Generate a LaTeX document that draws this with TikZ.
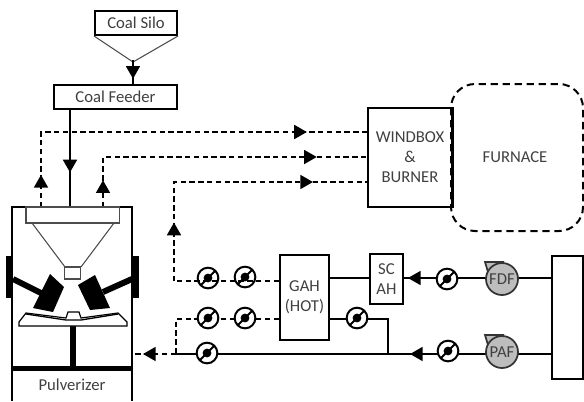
\documentclass[tikz,border=0pt]{standalone}
\usepackage{fontspec}
\setmainfont{Carlito}
\usetikzlibrary{arrows.meta,decorations.markings}
\definecolor{txt}{HTML}{404040}
\definecolor{fang}{HTML}{BDBDBD}
\tikzset{
  px/.style={x=0.75pt,y=-0.75pt},
  boxn/.style={draw=black,line width=1.5pt,fill=white,inner sep=0pt,text=txt,align=center,font=\fontsize{12.5}{15}\selectfont,anchor=north west},
  flow/.style={line width=1.3pt},
  dashflow/.style={flow,dash pattern=on 4pt off 2.6pt},
  thinl/.style={draw=black!70,line width=0.8pt},
  tipat/.style={postaction={decorate,decoration={markings,mark=at position #1 with {\arrow[solid]{Triangle[length=9.5pt,width=10.5pt]}}}}},
  damper/.style={circle,draw=black,line width=1.5pt,minimum size=15.5pt,inner sep=0pt,
    path picture={
      \draw[draw=black,line width=1.5pt] (path picture bounding box.south west) -- (path picture bounding box.north east);
      \fill[black] (path picture bounding box.center) circle (3.3pt);}},
  damperw/.style={damper,fill=white},
  fann/.style={circle,draw=black!80,line width=1.3pt,fill=fang,minimum size=24pt,inner sep=0pt,text=txt,font=\fontsize{12.5}{15}\selectfont},
  fantab/.style={draw=black!80,line width=1.3pt,fill=fang},
  blk/.style={fill=black,draw=none},
  labl/.style={text=txt,font=\fontsize{12.5}{15}\selectfont,inner sep=0pt},
}
\begin{document}
\begin{tikzpicture}[px]
\useasboundingbox (0,0) rectangle (584,401);
% boxes
\node[boxn,minimum width=61.5pt,minimum height=18pt] (silo) at (94,10) {Coal Silo};
\node[boxn,minimum width=92.25pt,minimum height=18pt] (feeder) at (53,84) {Coal Feeder};
\node[boxn,minimum width=63pt,minimum height=74.25pt] (windbox) at (367,107) {WINDBOX\\\&\\BURNER};
\node[boxn,minimum width=36.75pt,minimum height=63.75pt] (gah) at (279,254) {GAH\\(HOT)};
\node[boxn,minimum width=24.75pt,minimum height=37.5pt] (scah) at (369,253) {SC\\AH};
\node[boxn,minimum width=23.25pt,minimum height=92.25pt] (duct) at (551,255) {};
\node[labl] (furnlabel) at (515,157) {FURNACE};
\node[labl] (pulvlabel) at (72,385) {Pulverizer};
% furnace
\draw[line width=1.5pt,dash pattern=on 5.5pt off 3.5pt,rounded corners=18pt] (451,84) rectangle (583,231);
\draw[line width=1.5pt] (windbox.north east) -- (windbox.south east);
% coordinates
\coordinate (silotip) at (133,62);
\coordinate (stem) at (133,60);
\coordinate (feedtop) at (133,84);
\coordinate (feedout) at (70,108);
\coordinate (hoptop) at (70,207);
\coordinate (a1) at (41,207);
\coordinate (a2) at (41,132);
\coordinate (a3) at (367,132);
\coordinate (b1) at (103,207);
\coordinate (b2) at (103,157);
\coordinate (b3) at (367,157);
\coordinate (c2) at (174,182);
\coordinate (c3) at (367,182);
\coordinate (c1) at (174,281);
\coordinate (gahw1) at (279,281);
\coordinate (gahw2) at (279,319);
\coordinate (d1) at (176,319);
\coordinate (j1) at (176,354);
\coordinate (pulvin) at (132,354);
\coordinate (gahe1) at (328,278);
\coordinate (scw) at (369,278);
\coordinate (sce) at (402,278);
\coordinate (gahe2) at (328,319);
\coordinate (j2a) at (388,319);
\coordinate (j2) at (388,354);
\coordinate (ductw1) at (551,278);
\coordinate (ductw2) at (551,354);
% silo
\draw[thinl] (silo.south west) -- (silotip) -- (silo.south east);
\draw[flow,tipat=0.78] (stem) -- (feedtop);
\draw[flow,tipat=0.65] (feedout) -- (hoptop);
% air
\draw[dashflow,tipat=0.08,tipat=0.85] (a1) -- (a2) -- (a3);
\draw[dashflow,tipat=0.085,tipat=0.84] (b1) -- (b2) -- (b3);
\draw[dashflow,tipat=0.2,tipat=0.815] (c1) -- (c2) -- (c3);
\draw[dashflow] (gahw1) -- (c1);
\draw[dashflow] (gahw2) -- (d1) -- (j1);
\draw[dashflow,tipat=0.75] (j1) -- (pulvin);
\draw[flow,tipat=0.376] (ductw2) -- (j1);
\draw[flow] (gahe1) -- (scw);
\draw[flow] (gahe2) -- (j2a) -- (j2);
\draw[flow,tipat=0.96] (ductw1) -- (sce);
% dampers
\node[damper] (dmp1) at (208,278) {};
\node[damper] (dmp2) at (245,277) {};
\node[damperw] (dmp3) at (208,318) {};
\node[damperw] (dmp4) at (245,318) {};
\node[damperw] (dmp5) at (207,353) {};
\node[damperw] (dmp6) at (357,318) {};
\node[damperw] (dmp7) at (447,279) {};
\node[damperw] (dmp8) at (448,351) {};
% fans
\draw[fantab] (485,262) -- (503,262) -- (500,270) -- (488,272) -- cycle;
\draw[fantab] (485,335) -- (503,335) -- (500,342) -- (488,345) -- cycle;
\node[fann] (fdf) at (502,279) {FDF};
\node[fann] (paf) at (502,352) {PAF};
% pulverizer
\draw[line width=1.6pt] (12,401) -- (12,207) -- (132,207) -- (132,401);
\draw[thinl] (32,223) -- (65,267);
\draw[thinl] (114,223) -- (81,267);
\node[draw=black!70,line width=0.9pt,fill=white,minimum width=11.5pt,minimum height=9pt,inner sep=0pt] (hopbox) at (72.5,273) {};
\node[draw=black!70,line width=1pt,fill=white,minimum width=70pt,minimum height=12pt,inner sep=0pt] (hopper) at (72.5,215) {};
\fill[blk] (6,256) rectangle (13,298);
\fill[blk] (132,256) rectangle (139,298);
\draw[line width=4.5pt] (13,279) -- (45,295);
\draw[line width=4.5pt] (132,279) -- (103,292);
\fill[blk] (50,274) -- (64,287) -- (53,312) -- (33,308) -- cycle;
\fill[blk] (95,275) -- (78,285) -- (90,310) -- (110,308) -- cycle;
\fill[blk] (70,326) rectangle (76,368);
\fill[blk] (12,366) rectangle (132,371);
\draw[line width=0.9pt,fill=white] (19,326) -- (127,326) -- (127,322) -- (118,313) -- (81,318) -- (79,312) -- (68,312) -- (66,318) -- (26,313) -- (19,322) -- cycle;
\draw[line width=1pt] (26,314) -- (66,320) -- (81,320) -- (118,314);
\end{tikzpicture}
\end{document}
